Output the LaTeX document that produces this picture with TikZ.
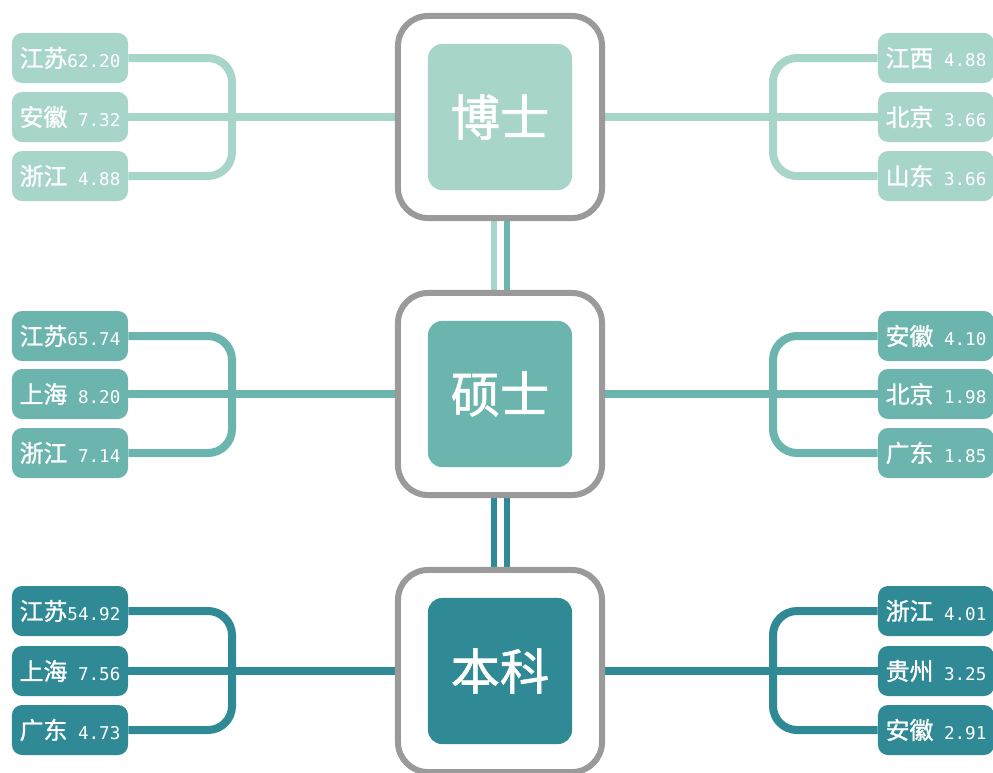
\documentclass[tikz,border=0pt]{standalone}
\usepackage{fontspec}
\newfontfamily\cjk[FakeBold=1.2]{Noto Sans CJK SC}
\newfontfamily\num{DejaVu Sans Mono}
\usetikzlibrary{backgrounds}
\definecolor{lvA}{HTML}{A8D5C9}
\definecolor{lvB}{HTML}{6CB4AE}
\definecolor{lvC}{HTML}{2F8A96}
\definecolor{rim}{HTML}{9A9A9A}
\newcommand{\tagtxt}[2]{{\cjk #1}{\num\fontsize{12.5}{12.5}\selectfont #2}}
\tikzset{
	outerbox/.style={draw=rim, line width=0.15cm, fill=white, rounded corners=0.75cm, minimum width=5.1cm, minimum height=5.05cm},
	innerbox/.style={rounded corners=0.35cm, minimum width=3.6cm, minimum height=3.65cm, text=white, font=\cjk\fontsize{35}{35}\selectfont},
	tag/.style={rounded corners=0.25cm, minimum width=2.9cm, minimum height=1.25cm, inner sep=0pt, text=white, font=\fontsize{17}{17}\selectfont},
	link/.style={line width=0.2cm, rounded corners=0.6cm},
	rail/.style={line width=0.16cm}
}
\begin{document}
\begin{tikzpicture}[x=0.025cm, y=-0.025cm]
		\useasboundingbox (0,0) rectangle (993,772);

		\node[outerbox] (bs) at (500,117) {};
		\node[innerbox, fill=lvA] (bsIn) at (bs) {博士};
		\node[outerbox] (ss) at (500,394) {};
		\node[innerbox, fill=lvB] (ssIn) at (ss) {硕士};
		\node[outerbox] (bk) at (500,671) {};
		\node[innerbox, fill=lvC] (bkIn) at (bk) {本科};

		\node[tag, fill=lvA] (bsL1) at (70,58) {\tagtxt{江苏}{62.20}};
		\node[tag, fill=lvA] (bsL2) at (70,117) {\tagtxt{安徽}{ 7.32}};
		\node[tag, fill=lvA] (bsL3) at (70,176) {\tagtxt{浙江}{ 4.88}};
		\node[tag, fill=lvA] (bsR1) at (936,58) {\tagtxt{江西}{ 4.88}};
		\node[tag, fill=lvA] (bsR2) at (936,117) {\tagtxt{北京}{ 3.66}};
		\node[tag, fill=lvA] (bsR3) at (936,176) {\tagtxt{山东}{ 3.66}};

		\node[tag, fill=lvB] (ssL1) at (70,336) {\tagtxt{江苏}{65.74}};
		\node[tag, fill=lvB] (ssL2) at (70,394) {\tagtxt{上海}{ 8.20}};
		\node[tag, fill=lvB] (ssL3) at (70,453) {\tagtxt{浙江}{ 7.14}};
		\node[tag, fill=lvB] (ssR1) at (936,336) {\tagtxt{安徽}{ 4.10}};
		\node[tag, fill=lvB] (ssR2) at (936,394) {\tagtxt{北京}{ 1.98}};
		\node[tag, fill=lvB] (ssR3) at (936,453) {\tagtxt{广东}{ 1.85}};

		\node[tag, fill=lvC] (bkL1) at (70,611) {\tagtxt{江苏}{54.92}};
		\node[tag, fill=lvC] (bkL2) at (70,671) {\tagtxt{上海}{ 7.56}};
		\node[tag, fill=lvC] (bkL3) at (70,730) {\tagtxt{广东}{ 4.73}};
		\node[tag, fill=lvC] (bkR1) at (936,611) {\tagtxt{浙江}{ 4.01}};
		\node[tag, fill=lvC] (bkR2) at (936,671) {\tagtxt{贵州}{ 3.25}};
		\node[tag, fill=lvC] (bkR3) at (936,730) {\tagtxt{安徽}{ 2.91}};

		\coordinate (bsLj) at (232,117);
		\coordinate (bsRj) at (773,117);
		\coordinate (ssLj) at (232,394);
		\coordinate (ssRj) at (773,394);
		\coordinate (bkLj) at (232,671);
		\coordinate (bkRj) at (773,671);

		\begin{scope}[on background layer]
		\draw[link, lvA] (bsL1.east) -| (bsLj) |- (bsL3.east);
		\draw[link, lvA] (bsL2.east) -- (bs.west);
		\draw[link, lvA] (bsR1.west) -| (bsRj) |- (bsR3.west);
		\draw[link, lvA] (bs.east) -- (bsR2.west);

		\draw[link, lvB] (ssL1.east) -| (ssLj) |- (ssL3.east);
		\draw[link, lvB] (ssL2.east) -- (ss.west);
		\draw[link, lvB] (ssR1.west) -| (ssRj) |- (ssR3.west);
		\draw[link, lvB] (ss.east) -- (ssR2.west);

		\draw[link, lvC] (bkL1.east) -| (bkLj) |- (bkL3.east);
		\draw[link, lvC] (bkL2.east) -- (bk.west);
		\draw[link, lvC] (bkR1.west) -| (bkRj) |- (bkR3.west);
		\draw[link, lvC] (bk.east) -- (bkR2.west);

		\draw[rail, lvA] ([xshift=-0.15cm]bs.south) -- ([xshift=-0.15cm]ss.north);
		\draw[rail, lvB] ([xshift=0.175cm]bs.south) -- ([xshift=0.175cm]ss.north);
		\draw[rail, lvC] ([xshift=-0.15cm]ss.south) -- ([xshift=-0.15cm]bk.north);
		\draw[rail, lvC] ([xshift=0.175cm]ss.south) -- ([xshift=0.175cm]bk.north);
		\end{scope}
	\end{tikzpicture}
\end{document}
